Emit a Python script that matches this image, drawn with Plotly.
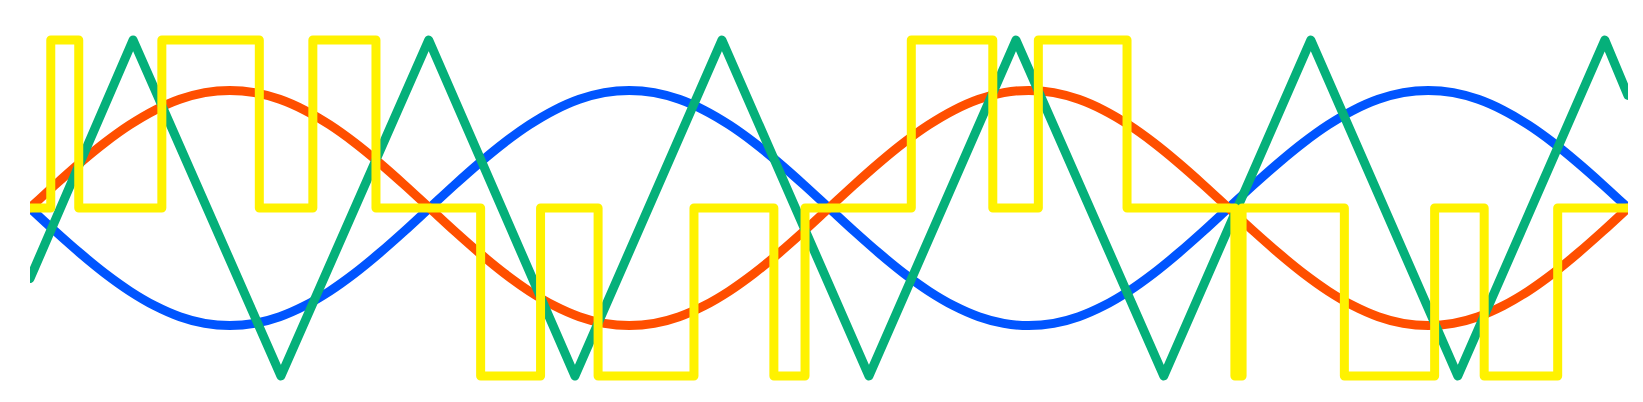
import plotly.graph_objects as go

# 1. 时间轴 (两个正弦周期, 每周期32个采样点)
t_sine = [i / 32 for i in range(65)]

# 正弦信号 (蓝色) 和反相信号 (橙色), 值
sine_blue = [0, -0.137, -0.268, -0.389, -0.495, -0.582, -0.647, -0.687,
             -0.700, -0.687, -0.647, -0.582, -0.495, -0.389, -0.268, -0.137,
             0, 0.137, 0.268, 0.389, 0.495, 0.582, 0.647, 0.687,
             0.700, 0.687, 0.647, 0.582, 0.495, 0.389, 0.268, 0.137,
             0, -0.137, -0.268, -0.389, -0.495, -0.582, -0.647, -0.687,
             -0.700, -0.687, -0.647, -0.582, -0.495, -0.389, -0.268, -0.137,
             0, 0.137, 0.268, 0.389, 0.495, 0.582, 0.647, 0.687,
             0.700, 0.687, 0.647, 0.582, 0.495, 0.389, 0.268, 0.137, 0]
sine_orange = [0, 0.137, 0.268, 0.389, 0.495, 0.582, 0.647, 0.687,
               0.700, 0.687, 0.647, 0.582, 0.495, 0.389, 0.268, 0.137,
               0, -0.137, -0.268, -0.389, -0.495, -0.582, -0.647, -0.687,
               -0.700, -0.687, -0.647, -0.582, -0.495, -0.389, -0.268, -0.137,
               0, 0.137, 0.268, 0.389, 0.495, 0.582, 0.647, 0.687,
               0.700, 0.687, 0.647, 0.582, 0.495, 0.389, 0.268, 0.137,
               0, -0.137, -0.268, -0.389, -0.495, -0.582, -0.647, -0.687,
               -0.700, -0.687, -0.647, -0.582, -0.495, -0.389, -0.268, -0.137, 0]

# 2. 三角波 (绿色) 的顶点
t_tri = [0, 0.129, 0.314, 0.499, 0.682, 0.866, 1.050,
         1.234, 1.419, 1.603, 1.787, 1.971, 2.0]
tri_green = [-0.42, 1, -1, 1, -1, 1, -1, 1, -1, 1, -1, 1, 0.67]

# 3. 三电平方波 (黄色), 每个值保持到下一个时间点
t_square = [0, 0.026, 0.061, 0.165, 0.287, 0.354, 0.433, 0.564,
            0.639, 0.711, 0.831, 0.931, 0.970, 1.103, 1.205, 1.262,
            1.373, 1.508, 1.517, 1.645, 1.758, 1.820, 1.912, 2.0]
square_yellow = [0, 1, 0, 1, 0, 1, 0, -1,
                 0, -1, 0, -1, 0, 1, 0, 1,
                 0, -1, 0, -1, 0, -1, 0, 0]

fig = go.Figure()

fig.add_trace(go.Scatter(x=t_sine, y=sine_blue, mode='lines',
                         line=dict(color='#0055ff', width=9, shape='spline')))
fig.add_trace(go.Scatter(x=t_sine, y=sine_orange, mode='lines',
                         line=dict(color='#ff4f00', width=9, shape='spline')))
fig.add_trace(go.Scatter(x=t_tri, y=tri_green, mode='lines',
                         line=dict(color='#05b07a', width=9)))
fig.add_trace(go.Scatter(x=t_square, y=square_yellow, mode='lines',
                         line=dict(color='#fff200', width=9, shape='hv')))

# 更新布局: 不显示坐标轴
fig.update_layout(
    width=1643,
    height=402,
    margin=dict(l=22, r=23, t=0, b=0),
    paper_bgcolor='white',
    plot_bgcolor='white',
    showlegend=False,
    xaxis=dict(range=[0, 2], visible=False),
    yaxis=dict(range=[-1.2024, 1.1905], visible=False)
)

# 圆角连接, 和原图一致
round_joins = """
document.querySelectorAll('.scatterlayer path.js-line').forEach(function(p) {
    p.style.strokeLinejoin = 'round';
    p.style.strokeLinecap = 'round';
});
"""

fig.write_html("out.html", post_script=round_joins)
